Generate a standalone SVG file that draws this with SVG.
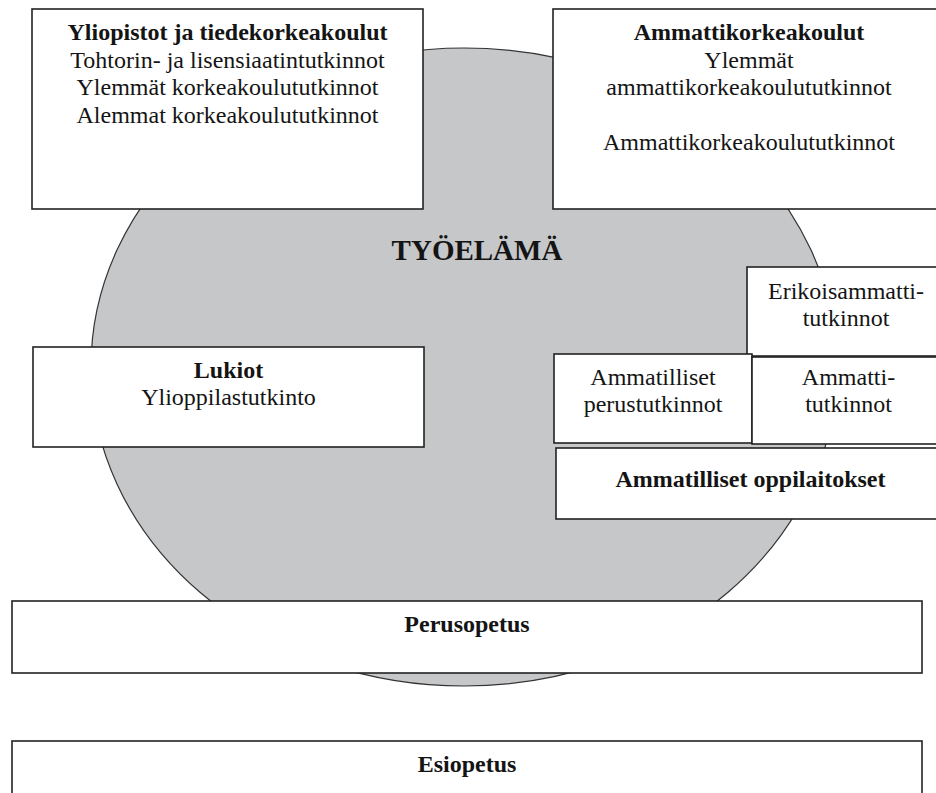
<svg xmlns="http://www.w3.org/2000/svg" width="936" height="793" viewBox="0 0 936 793">
<style>
.box{fill:#ffffff;stroke:#222;stroke-width:1.6}
.t{font-family:"Liberation Serif","Times New Roman",serif;font-size:24px;fill:#141414;text-anchor:middle}
.b{font-weight:bold}
.big{font-size:29px}
</style>
<rect width="936" height="793" fill="#ffffff"/>
<g id="tyoelama">
<ellipse cx="464" cy="367" rx="373" ry="319" fill="#c6c7c9" stroke="#333" stroke-width="1.2"/>
<text class="t b big" x="477" y="260">TYÖELÄMÄ</text>
</g>
<g id="connectors"></g>
<g id="yliopistot">
<rect class="box" x="32" y="9" width="391" height="200"/>
<text class="t b" x="227.5" y="40">Yliopistot ja tiedekorkeakoulut</text>
<text class="t" x="227.5" y="67.5">Tohtorin- ja lisensiaatintutkinnot</text>
<text class="t" x="227.5" y="95">Ylemmät korkeakoulututkinnot</text>
<text class="t" x="227.5" y="122.5">Alemmat korkeakoulututkinnot</text>
</g>
<g id="amk">
<rect class="box" x="553" y="9" width="392" height="200"/>
<text class="t b" x="749" y="40">Ammattikorkeakoulut</text>
<text class="t" x="749" y="67.5">Ylemmät</text>
<text class="t" x="749" y="95">ammattikorkeakoulututkinnot</text>
<text class="t" x="749" y="150">Ammattikorkeakoulututkinnot</text>
</g>
<g id="erikoisammatti">
<rect class="box" x="747" y="267" width="198" height="89"/>
<text class="t" x="846" y="299">Erikoisammatti-</text>
<text class="t" x="846" y="326">tutkinnot</text>
</g>
<g id="lukiot">
<rect class="box" x="33" y="347" width="391" height="100"/>
<text class="t b" x="228.5" y="378">Lukiot</text>
<text class="t" x="228.5" y="405">Ylioppilastutkinto</text>
</g>
<g id="perustutkinnot">
<rect class="box" x="554" y="354" width="198" height="89"/>
<text class="t" x="653" y="385">Ammatilliset</text>
<text class="t" x="653" y="412">perustutkinnot</text>
</g>
<g id="ammattitutkinnot">
<rect class="box" x="752" y="357" width="193" height="87"/>
<text class="t" x="848.5" y="385">Ammatti-</text>
<text class="t" x="848.5" y="412">tutkinnot</text>
</g>
<g id="oppilaitokset">
<rect class="box" x="556" y="448" width="389" height="71"/>
<text class="t b" x="750.5" y="487">Ammatilliset oppilaitokset</text>
</g>
<g id="perusopetus">
<rect class="box" x="12" y="601" width="910" height="72"/>
<text class="t b" x="467" y="632">Perusopetus</text>
</g>
<g id="esiopetus">
<rect class="box" x="12" y="741" width="910" height="70"/>
<text class="t b" x="467" y="772">Esiopetus</text>
</g>
</svg>
